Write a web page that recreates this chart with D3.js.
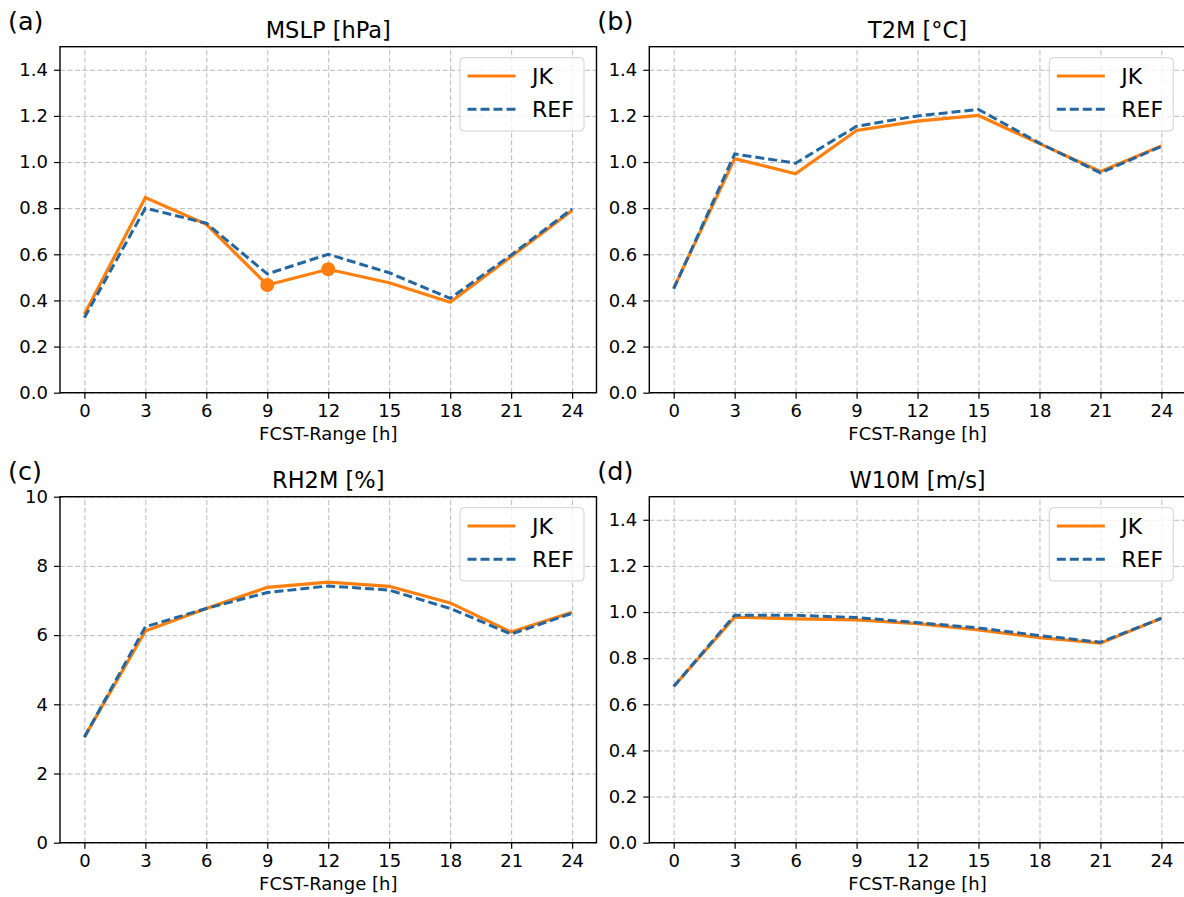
<!DOCTYPE html>
<html>
<head>
<meta charset="utf-8">
<script src="https://cdn.jsdelivr.net/npm/d3@7"></script>
<style>
  html, body { margin: 0; padding: 0; background: #fff; }
  svg { display: block; font-family: "DejaVu Sans", sans-serif; }
</style>
</head>
<body>
<svg id="chart" width="1184" height="897"></svg>
<script>
// ---- data ----
const hours = [0, 3, 6, 9, 12, 15, 18, 21, 24];
const xTicks = [0, 3, 6, 9, 12, 15, 18, 21, 24];

const mslpJK  = [0.34, 0.846, 0.73, 0.467, 0.535, 0.477, 0.392, 0.59, 0.79];
const mslpREF = [0.325, 0.80, 0.735, 0.515, 0.60, 0.52, 0.409, 0.597, 0.797];
const mslpMarkerHours = [9, 12];

const t2mJK  = [0.453, 1.015, 0.949, 1.137, 1.177, 1.202, 1.08, 0.959, 1.07];
const t2mREF = [0.45, 1.035, 0.995, 1.155, 1.20, 1.228, 1.082, 0.953, 1.068];

const rh2mJK  = [3.05, 6.12, 6.77, 7.38, 7.53, 7.41, 6.93, 6.09, 6.66];
const rh2mREF = [3.05, 6.24, 6.77, 7.23, 7.42, 7.30, 6.77, 6.03, 6.63];

const w10mJK  = [0.677, 0.978, 0.970, 0.966, 0.950, 0.923, 0.889, 0.865, 0.973];
const w10mREF = [0.677, 0.986, 0.986, 0.976, 0.954, 0.931, 0.898, 0.869, 0.973];

const smallTicks = [0, 0.2, 0.4, 0.6, 0.8, 1.0, 1.2, 1.4];
const rhTicks = [0, 2, 4, 6, 8, 10];

const titles = ["MSLP [hPa]", "T2M [°C]", "RH2M [%]", "W10M [m/s]"];
const panelLabels = ["(a)", "(b)", "(c)", "(d)"];
const seriesNames = ["JK", "REF"];
const xLabel = "FCST-Range [h]";

// ---- layout ----
const svg = d3.select("#chart");
const colJK = "#ff7f0e";
const colREF = "#2366a0";
const panelW = 536.5, panelH = 346;
const lefts = [60, 649.3];
const tops = [46.7, 496.7];

const panels = [
  { jk: mslpJK, ref: mslpREF, yMax: 1.5, ticks: smallTicks, fmt: d3.format(".1f"), markers: mslpMarkerHours },
  { jk: t2mJK, ref: t2mREF, yMax: 1.5, ticks: smallTicks, fmt: d3.format(".1f"), markers: [] },
  { jk: rh2mJK, ref: rh2mREF, yMax: 10, ticks: rhTicks, fmt: d3.format("d"), markers: [] },
  { jk: w10mJK, ref: w10mREF, yMax: 1.5, ticks: smallTicks, fmt: d3.format(".1f"), markers: [] }
];

panels.forEach((p, i) => {
  const L = lefts[i % 2], T = tops[Math.floor(i / 2)];
  const g = svg.append("g").attr("transform", `translate(${L},${T})`);
  const x = d3.scaleLinear().domain([-1.2, 25.2]).range([0, panelW]);
  const y = d3.scaleLinear().domain([0, p.yMax]).range([panelH, 0]);

  // grid
  const gx = g.append("g").attr("transform", `translate(0,${panelH})`)
    .call(d3.axisBottom(x).tickValues(xTicks).tickSize(-panelH).tickFormat(""));
  const gy = g.append("g")
    .call(d3.axisLeft(y).tickValues(p.ticks).tickSize(-panelW).tickFormat(""));
  [gx, gy].forEach(a => {
    a.select(".domain").remove();
    a.selectAll("line").attr("stroke", "#b8b8b8").attr("stroke-width", 1).attr("stroke-dasharray", "5,2.5");
  });

  // lines
  const line = d3.line().x((d, k) => x(hours[k])).y(d => y(d));
  g.append("path").datum(p.jk).attr("d", line).attr("fill", "none")
    .attr("stroke", colJK).attr("stroke-width", 3.2).attr("stroke-linejoin", "miter");
  g.append("path").datum(p.ref).attr("d", line).attr("fill", "none")
    .attr("stroke", colREF).attr("stroke-width", 3).attr("stroke-dasharray", "9,4");
  g.selectAll("circle.m").data(p.markers).enter().append("circle")
    .attr("cx", h => x(h)).attr("cy", h => y(p.jk[hours.indexOf(h)]))
    .attr("r", 7).attr("fill", colJK);

  // axes
  const ax = g.append("g").attr("transform", `translate(0,${panelH})`)
    .call(d3.axisBottom(x).tickValues(xTicks).tickSize(6).tickPadding(5).tickFormat(d3.format("d")));
  const ay = g.append("g")
    .call(d3.axisLeft(y).tickValues(p.ticks).tickSize(6).tickPadding(6).tickFormat(p.fmt));
  [ax, ay].forEach(a => {
    a.select(".domain").remove();
    a.selectAll("line").attr("stroke", "#000").attr("stroke-width", 1.2);
    a.selectAll("text").attr("font-size", 18).attr("fill", "#000")
      .attr("font-family", "DejaVu Sans");
  });
  ax.selectAll("text").attr("dy", "0.72em");

  // frame
  g.append("rect").attr("x", 0).attr("y", 0).attr("width", panelW).attr("height", panelH)
    .attr("fill", "none").attr("stroke", "#000").attr("stroke-width", 1.4);

  // title, xlabel, panel label
  g.append("text").attr("x", panelW / 2).attr("y", -8.5).attr("text-anchor", "middle")
    .attr("font-size", 22.5).text(titles[i]);
  g.append("text").attr("x", panelW / 2).attr("y", panelH + 47.5).attr("text-anchor", "middle")
    .attr("font-size", 18).text(xLabel);
  g.append("text").attr("x", -52).attr("y", -16.5).attr("font-size", 25.5).text(panelLabels[i]);

  // legend
  const lg = g.append("g").attr("transform", `translate(${panelW - 136.5},11)`);
  lg.append("rect").attr("width", 124).attr("height", 73.3).attr("rx", 4)
    .attr("fill", "#fff").attr("fill-opacity", 0.8).attr("stroke", "#d0d0d0").attr("stroke-width", 1);
  seriesNames.forEach((name, k) => {
    const yy = 18.3 + k * 33.3;
    lg.append("line").attr("x1", 7.5).attr("x2", 55.5).attr("y1", yy).attr("y2", yy)
      .attr("stroke", k === 0 ? colJK : colREF).attr("stroke-width", 3)
      .attr("stroke-dasharray", k === 0 ? null : "9,4");
    lg.append("text").attr("x", 72).attr("y", yy).attr("dy", "0.36em")
      .attr("font-size", 22).text(name);
  });
});
</script>
</body>
</html>
